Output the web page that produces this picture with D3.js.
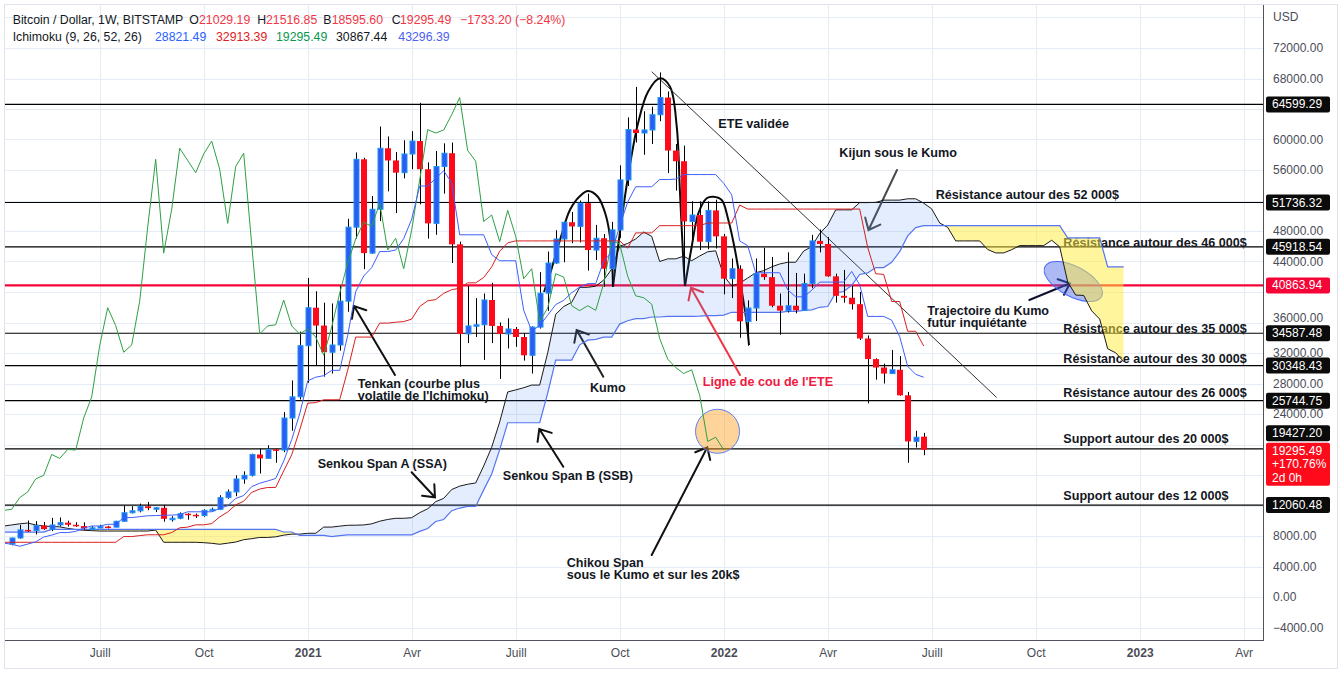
<!DOCTYPE html>
<html><head><meta charset="utf-8">
<script src="https://cdn.jsdelivr.net/npm/d3@7"></script>
<style>
body{margin:0;background:#fff;}
svg{display:block;font-family:"Liberation Sans",Arial,sans-serif;}
</style></head><body>
<svg id="c" width="1342" height="673"></svg>
<script>
// ---------------- DATA ----------------
const startWeek = "2020-04-20"; // first weekly candle (Monday)
const open = [6950,7740,8800,8720,9380,8900,9450,9750,9470,9300, 9010,9070,9240,9160,9930,11050,11300,11900,11650,11700, 10250,10330,10920,10780,10670,11370,11500,13030,13780,15480, 15960,18690,18180,19360,19270,23470,26250,32960,37940,35600, 32100,33050,38800,48500,57400,45100,50850,58850,57250,55650, 58100,59800,56100,49000,56450,58200,46250,34500,35550,35700, 38950,35550,34500,35150,34100,31700,35400,39850,43800,46950, 49150,48600,51650,45500,47050,43050,48150,54700,61300,60850, 61250,63250,65500,58550,57150,49250,50100,46600,50700,47300, 41750,43050,36150,37900,42400,41950,38200,37550,38200,37600, 41100,46700,46300,42050,39500,39250,38400,33900,31200,30100, 29300,29800,26450,20400,21029.19];
const high = [7780,9460,10030,9950,9840,10380,10430,10000,9800,9780, 9300,9470,9340,9990,12000,11900,12250,12470,11800,12080, 10600,11100,10990,10950,11500,11720,13350,14100,15960,16480, 18800,19480,19900,19420,24250,28400,34800,41850,40100,38600, 38500,40800,49600,58300,57600,52600,61700,60400,58350,59900, 61100,64800,57000,58500,59500,59600,46600,40800,39200,39800, 41200,36000,36550,35400,34600,35500,42600,45300,48100,49200, 50500,52000,52900,48800,47600,49200,56600,62900,66900,63700, 64300,68800,66300,59400,59200,51900,51900,51900,52100,47600, 44400,43500,38900,44400,45800,44600,39800,45200,42500,42400, 47500,48200,47200,42400,42900,40800,40000,34300,31300,30600, 32400,31600,26900,21800,21516.85];
const low = [6780,7650,8520,8200,8810,8640,9260,9230,9200,8830, 8890,9050,9000,9130,9900,10960,11100,11380,11130,9880, 9880,10200,10140,10370,10530,11190,11400,12880,13220,14850, 15800,16200,18100,17600,19000,21800,25900,28100,30300,28900, 29300,32300,37400,47000,43000,45000,49300,53200,50350,54900, 56100,51500,47000,47500,52900,43800,30200,33300,34100,31100, 33300,28600,32600,32800,31000,29300,35200,37500,43700,43900, 46400,46500,42800,44200,40700,40800,47100,53900,59600,58000, 59400,62400,55600,53300,42000,46800,45500,45600,45700,39700, 39200,34000,32950,36200,41600,38000,34400,37300,37200,37600, 40500,45200,42000,38600,38600,37700,33700,25400,28500,28000, 29300,26400,17600,19600,18595.60];
const close = [7740,8800,8720,9380,8900,9450,9750,9470,9300,9010, 9070,9240,9160,9930,11050,11300,11900,11650,11700,10250, 10330,10920,10780,10670,11370,11500,13030,13780,15480,15960, 18690,18180,19360,19270,23470,26250,32960,37940,35600,32100, 33050,38800,48500,57400,45100,50850,58850,57250,55650,58100, 59800,56100,49000,56450,58200,46250,34500,35550,35700,38950, 35550,34500,35150,34100,31700,35400,39850,43800,46950,49150, 48600,51650,45500,47050,43050,48150,54700,61300,60850,61250, 63250,65500,58550,57150,49250,50100,46600,50700,47300,41750, 43050,36150,37900,42400,41950,38200,37550,38200,37600,41100, 46700,46300,42050,39500,39250,38400,33900,31200,30100,29300, 29800,26450,20400,20950,19295.49];

// Ichimoku lines (first value = week -1, i.e. one week before startWeek)
const tenkan = [7075, 6910,6655,6940,7235,7855,8120,8445,8445,8605,9040, 9315,9315,9535,9535,10415,10415,10540,10650,10680,10735, 10735,10800,11175,11175,11175,11175,11615,11990,12920,13310, 14470,14925,15215,15545,17825,20640,24010,28350,28825,29025, 29725,29725,34300,40050,42100,43200,45300,45300,45500,47000, 49550,53900,53900,54900,55900,54300,47500,47500,47500,47500, 44900,44100,44100,44100,37600,34900,35600,36950,38350,38900, 39900,40650,41100,41100,44050,45200,48650,51800,53800,53800, 53800,54750,54750,54800,55400,55400,55400,55400,55400,54250, 52750,46700,46075,42525,42525,42525,42525,40275,39375,39375, 40225,41300,41300,41300,41300,42700,40950,36800,36800,36800, 36300,34150,30250,29200,28821.49];
const kijun = [7175, 7175,7175,7175,7175,7175,7175,7175,7175,7175,7175, 7175,7175,7175,7175,7925,7925,8050,8160,8160,8160, 8455,9075,9165,9465,9465,9625,10500,11150,12080,12560, 13720,14155,14365,14365,16540,18645,21900,25425,25490,25865, 25865,25865,29740,34090,34090,34090,35920,35920,36035,36115, 36445,38100,38840,39010,39825,40300,40500,41200,41200,41900, 43300,45350,46450,46700,46700,46700,46700,46700,46700,46700, 46700,46700,46700,46700,46700,46700,46700,45750,47750,47750, 47750,48700,48700,48700,48700,48700,48700,49050,49050,49050, 49050,51400,50875,50875,50875,50875,50875,50875,50875,50875, 50875,50875,50875,50875,50875,50875,50875,45850,42400,42300, 38750,38750,34850,34850,32913.39];
// Senkou spans as displayed (already shifted 25 weeks forward), first value = week -1
const senkouA = [9300,9450,9600,9700,9450,9300,9250,9200,9000,8850,8750,8700, 8650,8650,8650,8650,8650,8650,8650,8780,7175,7175,7175,7175,7175,7125,
 7043,6915,7058,7205,7515,7648,7810,7810,7890,8108, 8245,8245,8355,8355,9170,9170,9295,9405,9420,9448, 9595,9938,10170,10320,10320,10400,11058,11570,12500,12935, 14095,14540,14790,14955,17183,19643,22955,26888,27158,27445, 27795,27795,32020,37070,38095,38645,40610,40610,40768,41558, 42998,46000,46370,46955,47863,47300,44000,44350,44350,44700, 44100,44725,45275,45400,42150,40800,41150,41825,42525,42800, 43300,43675,43900,43900,45375,45950,47675,48775,50775,50775, 50775,51725,51725,51750,52050,52050,52050,52225,52225,51650, 50900,49050,48475,46700,46700,46700,46700,45575,45125,45125, 45550,46088,46088,46088,46088,46788,45913,41325,39600,39550, 37525,36450,32550,32025,30867.44];
const senkouB = [8500,8500,8500,8500,8500,8500, 8865,8865,8865,8865,8865,8865,8865,8865,8865,8865,8865,8865,8865,8865,8865,8865,8865,8865,8865,8865,
 8865,8865,8865,8865,8865,8865,8865,8865,8865,8525, 8525,8075,8075,8075,8075,7925,8050,8160,8160,8160, 8160,8160,8160,8160,8160,8160,8600,8975,9905,10165, 11325,11665,11875,11875,14050,16125,19325,22850,22850,22850, 22850,22850,26725,31075,31075,31075,33070,33690,33780,34080, 34080,35790,36225,36500,36500,36720,36720,36815,36815,36815, 36815,36845,36900,36900,36965,37340,37340,37340,37340,37340, 37340,37340,37470,37470,37585,37665,37995,38100,39890,40060, 40875,42300,42500,43200,43200,43900,45300,47350,48450,48700, 48700,48700,48700,48700,48700,48700,48700,48700,48700,48700, 48700,48700,48700,48700,48700,48700,48700,47100,47100,47100, 47100,47100,43296.39,43296.39,43296.39];
const chikouShift = 25;

const gridPrices = [-4000,0,4000,8000,12000,16000,20000,24000,28000,32000,36000,40000,44000,48000,52000,56000,60000,64000,68000,72000,76000];
const priceLabels = [-4000,0,4000,8000,24000,28000,32000,36000,44000,48000,56000,60000,68000,72000];
const timeTicks = ["2020-07-06","2020-10-05","2021-01-04","2021-04-05","2021-07-05","2021-10-04","2022-01-03","2022-04-04","2022-07-04","2022-10-03","2023-01-02","2023-04-03"];
const timeLabels = ["Juill","Oct","2021","Avr","Juill","Oct","2022","Avr","Juill","Oct","2023","Avr"];

const levelLines = [64599.29, 51736.32, 45918.54, 34587.48, 30348.43, 25744.75, 19427.20, 12060.48];
const neckLine = 40863.94;

const legend1 = ["Bitcoin / Dollar, 1W, BITSTAMP","O","21029.19","H","21516.85","B","18595.60","C","19295.49","−1733.20 (−8.24%)"];
const legend2 = ["Ichimoku (9, 26, 52, 26)","28821.49","32913.39","19295.49","30867.44","43296.39"];
const lastLabel = ["19295.49","+170.76%","2d 0h"];

// annotations in data coordinates: [week index from startWeek, price]
const notes = [
 {t:["ETE validée"], at:[88.33,61535]},
 {t:["Kijun sous le Kumo"], at:[103.45,57679]},
 {t:["Résistance autour des 52 000$"], at:[115.5,52132]},
 {t:["Résistance autour des 46 000$"], at:[131.45,45928]},
 {t:["Trajectoire du Kumo","futur inquiétante"], at:[114.45,36958]},
 {t:["Résistance autour des 35 000$"], at:[131.45,34558]},
 {t:["Résistance autour des 30 000$"], at:[131.45,30623]},
 {t:["Résistance autour des 26 000$"], at:[131.45,26256]},
 {t:["Support autour des 20 000$"], at:[131.45,20171]},
 {t:["Support autour des 12 000$"], at:[131.45,12656]},
 {t:["Tenkan (courbe plus","volatile de l'Ichimoku)"], at:[43.25,27436]},
 {t:["Kumo"], at:[72.29,26912]},
 {t:["Ligne de cou de l'ETE"], at:[86.38,27646], red:true},
 {t:["Senkou Span A (SSA)"], at:[38.25,16853]},
 {t:["Senkou Span B (SSB)"], at:[61.38,15279]},
 {t:["Chikou Span","sous le Kumo et sur les 20k$"], at:[69.38,3908]}
];
const arrows = [
 {from:[47.91,29115], to:[42.79,38165], c:"#111"},
 {from:[73.95,28892], to:[70.62,35017], c:"#222"},
 {from:[91.04,29115], to:[84.91,40565], c:"#f23645"},
 {from:[110.66,56001], to:[107.1,48132], c:"#4a4a4a"},
 {from:[127.2,38952], to:[132.29,41141], c:"#0d1030"},
 {from:[49.99,16354], to:[52.91,13076], c:"#111"},
 {from:[68.95,17089], to:[65.95,22033], c:"#111"},
 {from:[80.0,5508], to:[86.95,19633], c:"#111"}
];
const eteCurves = [
 [[66.54,40001],[67.29,42360],[68.54,46821],[69.79,50777],[71.04,52591],[72.04,53247],[73.29,52460],[74.29,49970],[74.91,46165],[75.16,40657]],
 [[75.16,40657],[75.79,45941],[77.04,55122],[78.29,62126],[79.54,66270],[81.04,68027],[82.29,66925],[83.13,61680],[83.54,52946],[83.95,44198],[84.16,40788]],
 [[84.16,40788],[85.0,45941],[85.83,50322],[86.88,52297],[87.7,52499],[88.75,52067],[89.58,49444],[90.41,45509],[91.25,40263],[91.88,35896],[92.16,33050]]
];
const trendLine = [[80.0,68893],[123.12,26164]];
const orangeCircle = {at:[88.23,21732]};
const blueEllipse = {at:[132.7,41378]};

// ---------------- CHART ----------------
const W = 1342, H = 673;
const L = 5, R = 1263, T = 5, B = 640;
const t0 = d3.utcParse("%Y-%m-%d")(startWeek).getTime();
const WEEK = 7*864e5;
const wd = w => new Date(t0 + w*WEEK);
const x = d3.scaleUtc().domain([wd(0), wd(114)]).range([11.7, 923.7]);
const y = d3.scaleLinear().domain([0, 72000]).range([597, 48]);
const xw = w => x(wd(w));
const P = a => [xw(a[0]), y(a[1])];

const svg = d3.select("#c");
svg.append("rect").attr("width",W).attr("height",H).attr("fill","#fff");
const defs = svg.append("defs");
defs.append("clipPath").attr("id","pc").append("rect").attr("x",L).attr("y",T).attr("width",R-L).attr("height",B-T);
const g = svg.append("g").attr("clip-path","url(#pc)");

// grid
const parseT = d3.utcParse("%Y-%m-%d");
const tickDates = timeTicks.map(parseT);
g.append("g").selectAll("line").data(gridPrices).join("line")
 .attr("x1",L).attr("x2",R).attr("y1",d=>Math.round(y(d))+0.5).attr("y2",d=>Math.round(y(d))+0.5)
 .attr("stroke","#e6ecf3").attr("stroke-width",1);
g.append("g").selectAll("line").data(tickDates).join("line")
 .attr("x1",d=>Math.round(x(d))+0.5).attr("x2",d=>Math.round(x(d))+0.5).attr("y1",T).attr("y2",B)
 .attr("stroke","#e6ecf3").attr("stroke-width",1);

// horizontal level lines
g.append("g").selectAll("line").data(levelLines).join("line")
 .attr("x1",L).attr("x2",R).attr("y1",d=>y(d)).attr("y2",d=>y(d))
 .attr("stroke","#000").attr("stroke-width",1.2);
g.append("line").attr("x1",L).attr("x2",R).attr("y1",y(neckLine)).attr("y2",y(neckLine))
 .attr("stroke","#f50537").attr("stroke-width",2.2);

// texts
const tg = g.append("g").attr("font-weight","bold").attr("font-size","12.6px");
notes.forEach(n=>{
  const p = P(n.at);
  const t = tg.append("text").attr("x",p[0]).attr("y",p[1]).attr("fill",n.red?"#f0193f":"#131722");
  n.t.forEach((s,i)=>t.append("tspan").attr("x",p[0]).attr("dy",i?12.2:0).text(s));
});

// arrows
const ag = g.append("g").attr("fill","none").attr("stroke-linecap","round");
arrows.forEach(a=>{
  const f=P(a.from), t=P(a.to);
  const ang=Math.atan2(f[1]-t[1], f[0]-t[0]);
  const len=13, sp=0.7;
  const w1=[t[0]+len*Math.cos(ang+sp), t[1]+len*Math.sin(ang+sp)];
  const w2=[t[0]+len*Math.cos(ang-sp), t[1]+len*Math.sin(ang-sp)];
  ag.append("path").attr("d",`M${f}L${t}M${w1}L${t}L${w2}`).attr("stroke",a.c).attr("stroke-width",2);
});

// ETE curves
const curve = d3.line().x(d=>xw(d[0])).y(d=>y(d[1])).curve(d3.curveCatmullRom);
g.append("g").selectAll("path").data(eteCurves).join("path").attr("d",curve)
 .attr("fill","none").attr("stroke","#0a0a0a").attr("stroke-width",2);
g.append("path").attr("d",d3.line().x(d=>xw(d[0])).y(d=>y(d[1]))(trendLine))
 .attr("stroke","#333").attr("stroke-width",1).attr("fill","none");

// shapes
const oc = P(orangeCircle.at);
g.append("circle").attr("cx",oc[0]).attr("cy",oc[1]).attr("r",22)
 .attr("fill","rgba(255,160,30,0.45)").attr("stroke","#5b7ff0").attr("stroke-width",1);
const be = P(blueEllipse.at);
g.append("ellipse").attr("cx",0).attr("cy",0).attr("rx",32).attr("ry",15)
 .attr("transform",`translate(${be[0]},${be[1]}) rotate(28)`)
 .attr("fill","rgba(70,100,230,0.45)").attr("stroke","#4a6cf7").attr("stroke-width",1);

// Kumo
const cloud = senkouA.map((a,i)=>({w:i-1, a, b:senkouB[i]}));
defs.append("clipPath").attr("id","aboveB").append("path")
 .attr("d", d3.area().x(d=>xw(d.w)).y0(d=>y(d.b)).y1(0)(cloud));
defs.append("clipPath").attr("id","belowB").append("path")
 .attr("d", d3.area().x(d=>xw(d.w)).y0(d=>y(d.b)).y1(H)(cloud));
g.append("path").attr("clip-path","url(#aboveB)")
 .attr("d", d3.area().x(d=>xw(d.w)).y0(d=>y(d.a)).y1(H)(cloud))
 .attr("fill","rgba(66,133,244,0.15)");
g.append("path").attr("clip-path","url(#belowB)")
 .attr("d", d3.area().x(d=>xw(d.w)).y0(d=>y(d.a)).y1(0)(cloud))
 .attr("fill","rgba(255,235,59,0.5)");
const ln = (acc)=>d3.line().x(d=>xw(d.w)).y(d=>y(acc(d)));
g.append("path").attr("d",ln(d=>d.a)(cloud)).attr("fill","none").attr("stroke","#1a1a1a").attr("stroke-width",1);
g.append("path").attr("d",ln(d=>d.b)(cloud)).attr("fill","none").attr("stroke","#5575f2").attr("stroke-width",1.2);

// candles
const candles = close.map((c,i)=>({w:i,o:open[i],h:high[i],l:low[i],c}));
const cg = g.append("g");
cg.selectAll("line").data(candles).join("line")
 .attr("x1",d=>Math.round(xw(d.w))+0.5).attr("x2",d=>Math.round(xw(d.w))+0.5)
 .attr("y1",d=>y(d.h)).attr("y2",d=>y(d.l)).attr("stroke","#000").attr("stroke-width",1);
cg.selectAll("rect").data(candles).join("rect")
 .attr("x",d=>Math.round(xw(d.w))-2.5).attr("width",d=>d.c>=d.o?5:6)
 .attr("transform",d=>d.c>=d.o?"translate(0.5,0)":"translate(-0.5,0)")
 .attr("y",d=>y(Math.max(d.o,d.c)))
 .attr("height",d=>Math.max(1.5,Math.abs(y(d.o)-y(d.c))))
 .attr("fill",d=>d.c>=d.o?"#2b5cf6":"#ff0a1a")
 .attr("stroke",d=>d.c>=d.o?"#1e96f0":"none").attr("stroke-width",1);

// Tenkan / Kijun / Chikou
const tk = tenkan.map((v,i)=>({w:i-1,v}));
const kj = kijun.map((v,i)=>({w:i-1,v}));
const ch = close.map((v,i)=>({w:i-chikouShift,v})).filter(d=>d.w>=-1);
const lv = d3.line().x(d=>xw(d.w)).y(d=>y(d.v));
g.append("path").attr("d",lv(ch)).attr("fill","none").attr("stroke","#2ea043").attr("stroke-width",1);
g.append("path").attr("d",lv(kj)).attr("fill","none").attr("stroke","#d81e1e").attr("stroke-width",1);
g.append("path").attr("d",lv(tk)).attr("fill","none").attr("stroke","#3d5ffb").attr("stroke-width",1);

// ---------------- AXES ----------------
svg.append("line").attr("x1",R+0.5).attr("x2",R+0.5).attr("y1",T).attr("y2",B).attr("stroke","#50535e");
svg.append("line").attr("x1",L).attr("x2",R+1).attr("y1",B+0.5).attr("y2",B+0.5).attr("stroke","#50535e");
svg.append("rect").attr("x",4.5).attr("y",4.5).attr("width",1333).attr("height",664).attr("fill","none").attr("stroke","#e0e3eb");

const yAxis = d3.axisRight(y).tickValues(priceLabels).tickSize(0).tickPadding(10)
  .tickFormat(d=>(d<0?"−":"")+Math.abs(d).toFixed(2));
const ya = svg.append("g").attr("transform",`translate(${R},0)`).call(yAxis);
ya.select(".domain").remove();
ya.selectAll("text").attr("font-size","12px").attr("fill","#4a4d57").attr("font-family","Liberation Sans, Arial")
  .attr("dy",d=>d===36000?"-0.05em":"0.32em");
svg.append("text").attr("x",1273).attr("y",21).attr("font-size","12px").attr("fill","#4a4d57").text("USD");

const xAxis = d3.axisBottom(x).tickValues(tickDates).tickSize(0).tickPadding(8).tickFormat((d,i)=>timeLabels[i]);
const xa = svg.append("g").attr("transform",`translate(0,${B})`).call(xAxis);
xa.select(".domain").remove();
xa.selectAll("text").attr("font-size","12px").attr("fill","#4a4d57").attr("font-family","Liberation Sans, Arial")
  .attr("font-weight",(d,i)=>/^\d{4}$/.test(timeLabels[i])?"bold":"normal");

// price labels of level lines
const lab = svg.append("g").attr("font-size","12px");
function tag(v, cy, fill, lines){
  const h = lines.length*13.5+2.5;
  lab.append("rect").attr("x",1266).attr("y",cy-8).attr("width",64).attr("height",h).attr("rx",2).attr("fill",fill);
  lines.forEach((s,i)=>lab.append("text").attr("x",1272).attr("y",cy+4+i*13.5).attr("fill","#fff").text(s));
}
levelLines.forEach(v=>{
  const cy = v===19427.20 ? y(v)-15.5 : y(v);
  tag(v, cy, "#0b0b0b", [v.toFixed(2)]);
});
tag(neckLine, y(neckLine), "#f50537", [neckLine.toFixed(2)]);
tag(close[close.length-1], y(close[close.length-1])+1, "#ff0a1a", lastLabel);

// legend
const red="#f23645", dark="#131722";
const l1x=[12.7,189.3,199,257.3,266,323.3,331.7,391.7,400,460];
const l1c=[dark,dark,red,dark,red,dark,red,dark,red,red];
const lg = svg.append("g").attr("font-size","12.3px");
legend1.forEach((s,i)=>lg.append("text").attr("x",l1x[i]).attr("y",23.5).attr("fill",l1c[i]).text(s));
const l2x=[12.7,155,216,276,336,398.3];
const l2c=[dark,"#2962ff","#e0201e","#089950","#131722","#4c5ff0"];
legend2.forEach((s,i)=>lg.append("text").attr("x",l2x[i]).attr("y",40.5).attr("fill",l2c[i]).text(s));
</script>
</body></html>
